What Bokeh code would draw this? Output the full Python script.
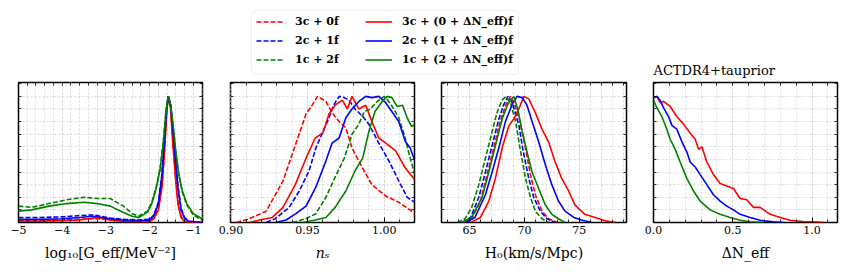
import math
from bokeh.plotting import figure
from bokeh.models import (Range1d, SingleIntervalTicker, FixedTicker, LinearAxis, Grid,
                          Legend, LegendItem, Label, BoxAnnotation, PrintfTickFormatter)
from bokeh.layouts import column, row
from bokeh.embed import file_html
from bokeh.resources import INLINE

RED = "#ff0000"
BLUE = "#0000ff"
GREEN = "#008000"
FONT = "DejaVu Serif"
DASH = "5 2"

LABELS_DASHED = ["3c + 0f", "2c + 1f", "1c + 2f"]
LABELS_SOLID = ["3c + (0 + ΔN_eff)f", "2c + (1 + ΔN_eff)f", "1c + (2 + ΔN_eff)f"]
TITLE_4 = "ACTDR4+tauprior"
Y_TICKS = [0.0, 0.1, 0.2, 0.3, 0.4, 0.5, 0.6, 0.7, 0.8, 0.9, 1.0, 1.1]

# ---------------- panel 1: log10 Geff ----------------
geff_x_3c = [-5, -4.5, -4, -3.6, -3.3, -3.2, -2.9, -2.6, -2.3, -2.0, -1.9, -1.8, -1.72, -1.66,
             -1.61, -1.57, -1.52, -1.47, -1.41, -1.35, -1.28, -1.2, -1.1, -0.8]
geff_y_3c0f = [0.015, 0.015, 0.02, 0.025, 0.03, 0.03, 0.02, 0.012, 0.008, 0.01, 0.035, 0.11, 0.28,
               0.56, 0.88, 1.0, 0.91, 0.65, 0.38, 0.16, 0.05, 0.01, 0.0, 0.0]
geff_y_3cdn = [0.01, 0.01, 0.015, 0.02, 0.035, 0.04, 0.02, 0.008, 0.004, 0.006, 0.03, 0.1, 0.27,
               0.55, 0.87, 1.0, 0.9, 0.63, 0.36, 0.14, 0.04, 0.005, 0.0, 0.0]
geff_y_2c1f = [0.04, 0.04, 0.045, 0.055, 0.06, 0.055, 0.035, 0.025, 0.02, 0.025, 0.06, 0.16, 0.38,
               0.67, 0.91, 1.0, 0.94, 0.77, 0.52, 0.29, 0.11, 0.04, 0.01, 0.0]
geff_y_2cdn = [0.025, 0.025, 0.03, 0.04, 0.05, 0.045, 0.03, 0.02, 0.015, 0.02, 0.055, 0.15, 0.36,
               0.65, 0.9, 1.0, 0.93, 0.75, 0.5, 0.27, 0.1, 0.03, 0.01, 0.0]
geff_x_1c = [-5, -4.7, -4.3, -3.9, -3.5, -3.2, -2.9, -2.6, -2.4, -2.25, -2.05, -1.95, -1.85, -1.76,
             -1.69, -1.63, -1.58, -1.53, -1.47, -1.4, -1.33, -1.25, -1.15, -1.0, -0.8]
geff_y_1c2f = [0.13, 0.12, 0.15, 0.18, 0.2, 0.19, 0.19, 0.13, 0.07, 0.05, 0.09, 0.16, 0.28, 0.43,
               0.63, 0.87, 1.0, 0.95, 0.79, 0.55, 0.37, 0.24, 0.14, 0.06, 0.02]
geff_y_1cdn = [0.09, 0.1, 0.13, 0.15, 0.16, 0.15, 0.13, 0.08, 0.05, 0.04, 0.08, 0.15, 0.27, 0.42,
               0.62, 0.86, 1.0, 0.95, 0.8, 0.56, 0.38, 0.25, 0.15, 0.07, 0.03]

# ---------------- panel 2: n_s ----------------
ns_x_3c0f = [0.9035, 0.912, 0.923, 0.934, 0.9425, 0.949, 0.953, 0.9565, 0.962, 0.966, 0.9706, 0.975,
             0.979, 0.986, 0.992, 1.001, 1.0095, 1.018, 1.02]
ns_y_3c0f = [0.0, 0.03, 0.09, 0.33, 0.63, 0.86, 0.93, 1.0, 0.96, 0.87, 0.8, 0.75, 0.59, 0.43, 0.3,
             0.21, 0.16, 0.09, 0.08]
ns_x_3cdn = [0.912, 0.9186, 0.927, 0.934, 0.942, 0.949, 0.955, 0.96, 0.964, 0.968, 0.9727, 0.976,
             0.979, 0.9835, 0.988, 0.992, 0.9965, 1.001, 1.0074, 1.0139, 1.02]
ns_y_3cdn = [0.0, 0.02, 0.04, 0.12, 0.3, 0.51, 0.67, 0.71, 0.86, 0.93, 0.97, 0.9, 1.0, 0.9, 0.93,
             0.8, 0.67, 0.63, 0.57, 0.43, 0.34]
ns_x_2c1f = [0.923, 0.929, 0.938, 0.9446, 0.951, 0.9554, 0.96, 0.964, 0.967, 0.9706, 0.974, 0.977,
             0.981, 0.986, 0.99, 0.9965, 1.003, 1.0095, 1.015, 1.02]
ns_y_2c1f = [0.0, 0.03, 0.12, 0.25, 0.41, 0.59, 0.72, 0.83, 0.93, 1.0, 0.99, 0.97, 0.9, 0.84, 0.78,
             0.63, 0.49, 0.33, 0.2, 0.16]
ns_x_2cdn = [0.929, 0.936, 0.9424, 0.949, 0.9554, 0.962, 0.966, 0.9706, 0.975, 0.979, 0.9835, 0.988,
             0.992, 0.9965, 1.001, 1.005, 1.0095, 1.0139, 1.017, 1.02]
ns_y_2cdn = [0.0, 0.02, 0.07, 0.13, 0.28, 0.49, 0.63, 0.67, 0.83, 0.9, 0.96, 1.0, 0.99, 1.0, 0.95,
             0.88, 0.8, 0.64, 0.59, 0.49]
ns_x_1c2f = [0.94, 0.949, 0.9554, 0.962, 0.968, 0.974, 0.979, 0.9835, 0.987, 0.991, 0.9955, 1.0,
             1.003, 1.0063, 1.0095, 1.013, 1.017, 1.02]
ns_y_1c2f = [0.0, 0.03, 0.07, 0.2, 0.36, 0.51, 0.7, 0.78, 0.88, 0.9, 0.96, 1.0, 0.96, 0.9, 0.83,
             0.7, 0.51, 0.38]
ns_x_1cdn = [0.947, 0.955, 0.962, 0.968, 0.975, 0.981, 0.986, 0.99, 0.994, 0.9987, 1.002, 1.005,
             1.0085, 1.012, 1.015, 1.018, 1.02]
ns_y_1cdn = [0.0, 0.02, 0.04, 0.12, 0.25, 0.41, 0.51, 0.72, 0.88, 0.96, 1.0, 0.99, 0.92, 0.93, 0.83,
             0.76, 0.78]

# ---------------- panel 3: H0 ----------------
h0_x_1c2f = [63.9, 64.6, 65.2, 65.85, 66.45, 67.06, 67.5, 67.97, 68.33, 68.73, 69.2, 69.6, 70.1, 70.55,
             71.0, 71.6, 72.2]
h0_y_1c2f = [0.0, 0.03, 0.12, 0.3, 0.51, 0.72, 0.87, 0.97, 1.0, 0.95, 0.8, 0.59, 0.35, 0.2, 0.09,
             0.03, 0.0]
h0_x_2c1f = [64.3, 65.1, 65.85, 66.45, 67.06, 67.67, 68.1, 68.5, 68.9, 69.5, 69.9, 70.4, 70.85, 71.45,
             72.06, 72.8]
h0_y_2c1f = [0.0, 0.04, 0.2, 0.4, 0.61, 0.82, 0.93, 1.0, 0.95, 0.77, 0.56, 0.35, 0.2, 0.09, 0.03, 0.0]
h0_x_3c0f = [64.5, 65.2, 66.0, 66.6, 67.2, 67.8, 68.3, 68.73, 69.1, 69.6, 70.1, 70.55, 71.0, 71.6,
             72.2, 73.0]
h0_y_3c0f = [0.0, 0.03, 0.17, 0.38, 0.59, 0.8, 0.93, 1.0, 0.94, 0.8, 0.59, 0.38, 0.22, 0.09, 0.03, 0.0]
h0_x_1cdn = [64.3, 65.2, 66.15, 66.76, 67.36, 67.97, 68.5, 69.03, 69.4, 69.8, 70.24, 70.7, 71.3, 71.9,
             72.5, 73.1, 73.7]
h0_y_1cdn = [0.0, 0.04, 0.2, 0.4, 0.61, 0.82, 0.94, 1.0, 0.9, 0.72, 0.56, 0.4, 0.27, 0.14, 0.065,
             0.03, 0.0]
h0_x_2cdn = [64.6, 65.5, 66.45, 67.06, 67.67, 68.27, 68.9, 69.33, 69.8, 70.24, 70.7, 71.3, 71.9, 72.5,
             73.1, 73.7, 74.5, 75.2, 76.15]
h0_y_2cdn = [0.0, 0.04, 0.22, 0.4, 0.59, 0.8, 0.94, 1.0, 0.99, 0.93, 0.8, 0.64, 0.46, 0.3, 0.17,
             0.09, 0.04, 0.02, 0.0]
h0_x_3cdn = [65.1, 66.0, 66.76, 67.36, 67.97, 68.6, 69.03, 69.5, 69.94, 70.4, 71.0, 71.6, 72.2, 72.8,
             73.4, 74.03, 74.6, 75.5, 76.45, 77.36, 78.3]
h0_y_3cdn = [0.0, 0.04, 0.17, 0.35, 0.59, 0.77, 0.82, 0.9, 1.0, 0.98, 0.87, 0.74, 0.64, 0.48, 0.35,
             0.25, 0.14, 0.065, 0.04, 0.013, 0.0]

# ---------------- panel 4: Delta N_eff ----------------
dn_x_3cdn = [0.0, 0.021, 0.042, 0.063, 0.105, 0.147, 0.189, 0.231, 0.263, 0.284, 0.305, 0.336, 0.378,
             0.42, 0.462, 0.504, 0.546, 0.588, 0.63, 0.672, 0.735, 0.8, 0.86, 0.945, 1.03, 1.07]
dn_y_3cdn = [0.99, 1.0, 0.95, 0.96, 0.92, 0.84, 0.78, 0.71, 0.66, 0.58, 0.6, 0.48, 0.38, 0.31, 0.29,
             0.27, 0.19, 0.18, 0.12, 0.12, 0.065, 0.04, 0.018, 0.008, 0.003, 0.0]
dn_x_2cdn = [0.0, 0.021, 0.042, 0.063, 0.095, 0.116, 0.147, 0.179, 0.21, 0.231, 0.263, 0.294, 0.336,
             0.378, 0.42, 0.462, 0.504, 0.546, 0.609, 0.672, 0.756, 0.82]
dn_y_2cdn = [0.99, 1.0, 0.97, 0.91, 0.84, 0.77, 0.74, 0.64, 0.56, 0.48, 0.44, 0.38, 0.3, 0.22, 0.17,
             0.13, 0.1, 0.065, 0.04, 0.018, 0.005, 0.0]
dn_x_1cdn = [0.0, 0.021, 0.053, 0.084, 0.105, 0.137, 0.168, 0.21, 0.252, 0.294, 0.357, 0.42, 0.483,
             0.546, 0.609, 0.693]
dn_y_1cdn = [0.97, 0.91, 0.84, 0.74, 0.66, 0.58, 0.48, 0.35, 0.25, 0.17, 0.1, 0.065, 0.04, 0.018,
             0.005, 0.0]

PANEL_XLABELS = ["log₁₀[G_eff/MeV⁻²]", "nₛ", "H₀(km/s/Mpc)", "ΔN_eff"]
P1_TICK_LABELS = {-5.0: "−5", -4.0: "−4", -3.0: "−3", -2.0: "−2", -1.0: "−1"}


def tick_positions(lo, hi, step, sub):
    """all (major + minor) tick positions inside [lo, hi] for a given major step."""
    minor_step = step / sub
    start = math.ceil(lo / minor_step - 1e-9)
    stop = math.floor(hi / minor_step + 1e-9)
    return [round(k * minor_step, 6) for k in range(start, stop + 1)]


def style_axis(ax, tick_in=5, minor_in=3):
    ax.axis_line_color = None
    ax.major_tick_in = tick_in
    ax.major_tick_out = 0
    ax.minor_tick_in = minor_in
    ax.minor_tick_out = 0
    ax.major_tick_line_color = "black"
    ax.minor_tick_line_color = "black"
    ax.major_tick_line_width = 1
    ax.minor_tick_line_width = 0.8


def make_panel(width, bl, br, xr, interval, label, formatter=None, overrides=None, italic=False):
    p = figure(width=width, height=197, x_range=Range1d(*xr), y_range=Range1d(0, 1.11),
               output_backend="svg", toolbar_location=None, x_axis_type=None, y_axis_type=None,
               min_border_left=bl, min_border_right=br, min_border_top=4, min_border_bottom=53)
    p.outline_line_color = "black"
    p.outline_line_width = 1.5
    p.background_fill_color = "white"
    p.border_fill_color = "white"
    xt = SingleIntervalTicker(interval=interval, num_minor_ticks=5)
    x_all = tick_positions(xr[0], xr[1], interval, 5)
    xt_top = FixedTicker(ticks=[], minor_ticks=x_all)
    yt_side = FixedTicker(ticks=[], minor_ticks=Y_TICKS)
    yt_grid = FixedTicker(ticks=Y_TICKS)

    xb = LinearAxis(ticker=xt, axis_label=label)
    if formatter is not None:
        xb.formatter = formatter
    if overrides is not None:
        xb.major_label_overrides = overrides
    style_axis(xb)
    xb.major_label_text_font = FONT
    xb.major_label_text_font_size = "11px"
    xb.major_label_text_color = "black"
    xb.major_label_standoff = 3
    xb.axis_label_text_font = FONT
    xb.axis_label_text_font_size = "14px"
    xb.axis_label_text_font_style = "italic" if italic else "normal"
    xb.axis_label_text_color = "black"
    xb.axis_label_standoff = 8
    p.add_layout(xb, "below")

    xa = LinearAxis(ticker=xt_top)
    style_axis(xa)
    p.add_layout(xa, "above")

    yl = LinearAxis(ticker=yt_side)
    style_axis(yl)
    p.add_layout(yl, "left")
    yr = LinearAxis(ticker=yt_side)
    style_axis(yr)
    p.add_layout(yr, "right")

    gx = Grid(dimension=0, ticker=xt)
    gy = Grid(dimension=1, ticker=yt_grid)
    for g in (gx, gy):
        g.grid_line_color = "#d0d0d0"
        g.grid_line_dash = "2 2"
        g.grid_line_width = 0.8
    gx.minor_grid_line_color = "#d0d0d0"
    gx.minor_grid_line_dash = "2 2"
    gx.minor_grid_line_width = 0.8
    p.add_layout(gx, "center")
    p.add_layout(gy, "center")
    return p


def dashed(p, x, y, c):
    return p.line(x, y, line_color=c, line_width=1.6, line_dash=DASH)


def solid(p, x, y, c):
    return p.line(x, y, line_color=c, line_width=1.6)


p1 = make_panel(216, 18, 14, (-5.0, -0.79), 1, PANEL_XLABELS[0], overrides=P1_TICK_LABELS)
dashed(p1, geff_x_3c, geff_y_3c0f, RED)
dashed(p1, geff_x_3c, geff_y_2c1f, BLUE)
dashed(p1, geff_x_1c, geff_y_1c2f, GREEN)
solid(p1, geff_x_3c, geff_y_3cdn, RED)
solid(p1, geff_x_3c, geff_y_2cdn, BLUE)
solid(p1, geff_x_1c, geff_y_1cdn, GREEN)

p2 = make_panel(211, 14, 13, (0.8997, 1.0198), 0.05, PANEL_XLABELS[1],
                formatter=PrintfTickFormatter(format="%.2f"), italic=True)
dashed(p2, ns_x_3c0f, ns_y_3c0f, RED)
dashed(p2, ns_x_2c1f, ns_y_2c1f, BLUE)
dashed(p2, ns_x_1c2f, ns_y_1c2f, GREEN)
solid(p2, ns_x_3cdn, ns_y_3cdn, RED)
solid(p2, ns_x_2cdn, ns_y_2cdn, BLUE)
solid(p2, ns_x_1cdn, ns_y_1cdn, GREEN)

p3 = make_panel(212, 14, 13, (62.45, 79.3), 5, PANEL_XLABELS[2],
                formatter=PrintfTickFormatter(format="%d"))
dashed(p3, h0_x_3c0f, h0_y_3c0f, RED)
dashed(p3, h0_x_2c1f, h0_y_2c1f, BLUE)
dashed(p3, h0_x_1c2f, h0_y_1c2f, GREEN)
solid(p3, h0_x_3cdn, h0_y_3cdn, RED)
solid(p3, h0_x_2cdn, h0_y_2cdn, BLUE)
solid(p3, h0_x_1cdn, h0_y_1cdn, GREEN)

p4 = make_panel(208, 14, 10, (0.0, 1.16), 0.5, PANEL_XLABELS[3],
                formatter=PrintfTickFormatter(format="%.1f"))
solid(p4, dn_x_3cdn, dn_y_3cdn, RED)
solid(p4, dn_x_2cdn, dn_y_2cdn, BLUE)
solid(p4, dn_x_1cdn, dn_y_1cdn, GREEN)

# ---------------- top strip: legend + title ----------------
top = figure(width=847, height=78, x_range=Range1d(0, 847), y_range=Range1d(0, 78),
             output_backend="svg", toolbar_location=None, x_axis_type=None, y_axis_type=None,
             min_border=0, title=None)
top.outline_line_color = None
top.grid.visible = False

box = BoxAnnotation(left=251, right=518, bottom=4, top=68, fill_color="white", fill_alpha=1,
                    line_color="#c8c8c8", line_width=1, border_radius=4)
top.add_layout(box)

NAN = [float("nan")]
colors = [RED, BLUE, GREEN]
items_d, items_s = [], []
for lab, c in zip(LABELS_DASHED, colors):
    r = top.line(NAN, NAN, line_color=c, line_width=1.6, line_dash=DASH)
    items_d.append(LegendItem(label=lab, renderers=[r]))
for lab, c in zip(LABELS_SOLID, colors):
    r = top.line(NAN, NAN, line_color=c, line_width=1.6)
    items_s.append(LegendItem(label=lab, renderers=[r]))


def make_legend(items, loc, standoff):
    return Legend(items=items, location=loc, padding=0, margin=0, spacing=2,
                  label_height=17, glyph_height=17, glyph_width=27, label_standoff=standoff,
                  label_text_font=FONT, label_text_font_size="11px", label_text_font_style="bold",
                  label_text_color="black", background_fill_alpha=0, border_line_color=None)


top.add_layout(make_legend(items_d, (256, 10), 12))
top.add_layout(make_legend(items_s, (365, 10), 10))

top.add_layout(Label(x=653, y=8, text=TITLE_4, text_font=FONT, text_font_size="13px",
                     text_color="black", text_baseline="alphabetic"))

layout = column(top, row(p1, p2, p3, p4))
open("out.html", "w").write(file_html(layout, INLINE))
